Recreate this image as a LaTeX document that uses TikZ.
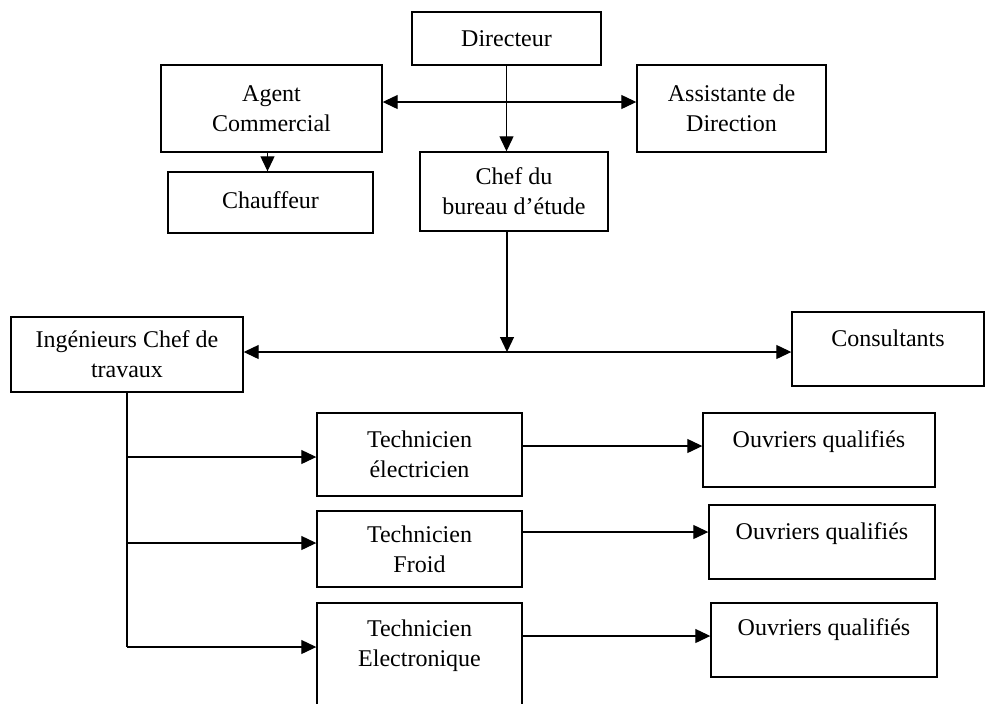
\documentclass[tikz,border=0pt]{standalone}
\usepackage{fontspec}
\setmainfont{Liberation Serif}
\usetikzlibrary{arrows.meta}

\tikzset{
  box/.style={draw, line width=0.7pt, align=center, inner sep=0pt,
    font=\fontsize{12}{15}\selectfont},
  link/.style={line width=0.6pt},
  >={Triangle[length=7.5pt,width=7pt]}
}

\begin{document}
\begin{tikzpicture}[x=0.5pt,y=-0.5pt]
    % Frame:
    \clip (0,0) rectangle (986,703);
    % Boxes:
    \node[box, minimum width=94.5pt, minimum height=26.5pt] (dir) at (506.5,38.5) {Directeur};
    \node[box, minimum width=110.5pt, minimum height=43.5pt] (agent) at (271.5,108.5) {Agent\\Commercial};
    \node[box, minimum width=94.5pt, minimum height=43.5pt] (assist) at (731.5,108.5) {Assistante de\\Direction};
    \node[box, minimum width=102.5pt, minimum height=30.5pt] (chauf) at (270.5,202.5) {Chauffeur\\[-13pt]~};
    \node[box, minimum width=94pt, minimum height=39.5pt] (chef) at (514,191.5) {Chef du\\bureau d’étude};
    \node[box, minimum width=116pt, minimum height=37.5pt] (ing) at (127,354.5) {Ingénieurs Chef de\\travaux};
    \node[box, minimum width=96pt, minimum height=37pt] (cons) at (888,349) {Consultants\\[-4pt]~};
    \node[box, minimum width=102.5pt, minimum height=41.5pt] (tel) at (419.5,454.5) {Technicien\\électricien};
    \node[box, minimum width=102.5pt, minimum height=38pt] (tfr) at (419.5,549) {Technicien\\Froid};
    \node[box, minimum width=102.5pt, minimum height=55pt] (tele) at (419.5,658) {Technicien\\Electronique\\~}; % runs past the bottom edge
    \node[box, minimum width=116pt, minimum height=37pt] (ouv1) at (819,450) {Ouvriers qualifiés\\[-4pt]~};
    \node[box, minimum width=113pt, minimum height=37pt] (ouv2) at (822,542) {Ouvriers qualifiés\\[-4pt]~};
    \node[box, minimum width=113pt, minimum height=37pt] (ouv3) at (824,640) {Ouvriers qualifiés\\[-2pt]~};
    % Levels of the links:
    \coordinate (top) at (507,102);
    \coordinate (mid) at (507,352);
    \coordinate (b1) at (127,457);
    \coordinate (b2) at (127,543);
    \coordinate (b3) at (127,647);
    \coordinate (r1) at (600,446);
    \coordinate (r2) at (600,532);
    \coordinate (r3) at (600,636);
    % Links:
    \draw[link,->] (dir.south) -- (dir.south |- chef.north);
    \draw[link,<->] (agent.east |- top) -- (assist.west |- top);
    \draw[link,->] ([xshift=-2pt]agent.south) -- ([xshift=-2pt]agent.south |- chauf.north);
    \draw[link,->] (mid |- chef.south) -- (mid);
    \draw[link,<->] (ing.east |- mid) -- (cons.west |- mid);
    \draw[link] (ing.south) -- (b3);
    \draw[link,->] (b1) -- (tel.west |- b1);
    \draw[link,->] (b2) -- (tfr.west |- b2);
    \draw[link,->] (b3) -- (tele.west |- b3);
    \draw[link,->] (tel.east |- r1) -- (ouv1.west |- r1);
    \draw[link,->] (tfr.east |- r2) -- (ouv2.west |- r2);
    \draw[link,->] (tele.east |- r3) -- (ouv3.west |- r3);
\end{tikzpicture}
\end{document}
